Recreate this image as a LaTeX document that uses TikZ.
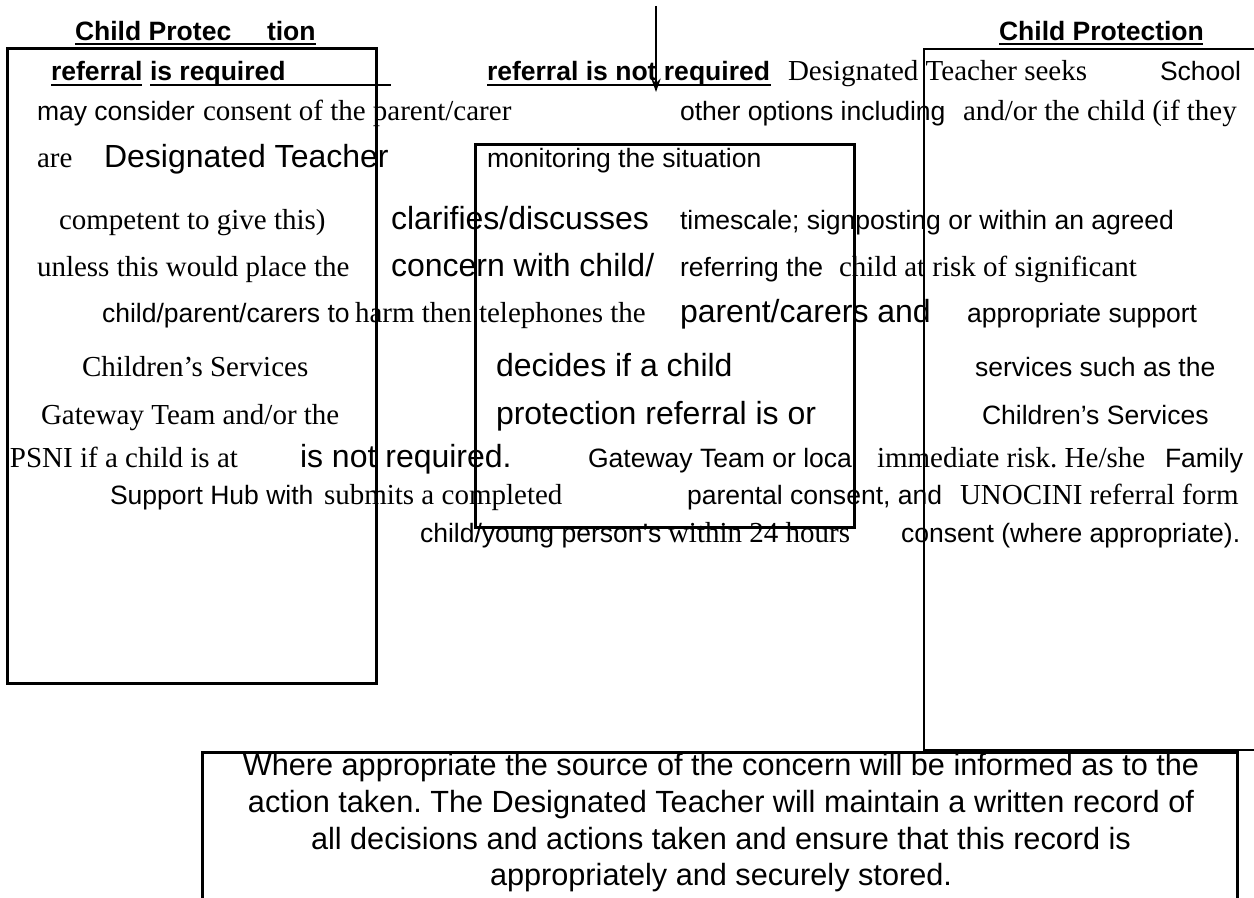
\documentclass[tikz,border=0pt]{standalone}
\usepackage{fontspec}
\setmainfont{Liberation Serif}
\newfontfamily\arialf{Liberation Sans}
\usetikzlibrary{arrows.meta}
\frenchspacing
\newcommand\fsm{\arialf\fontsize{19.9}{22}\selectfont}
\newcommand\fbig{\arialf\fontsize{24}{26}\selectfont}
\newcommand\fbold{\arialf\bfseries\fontsize{19.9}{22}\selectfont}
\newcommand\fser{\rmfamily\fontsize{21.75}{24}\selectfont}
\newcommand\fbot{\arialf\fontsize{23}{24}\selectfont}
\tikzset{
  every node/.style={inner sep=0pt, outer sep=0pt, anchor=base west},
  sm/.style={font=\fsm},
  big/.style={font=\fbig},
  bld/.style={font=\fbold},
  ser/.style={font=\fser},
  bot/.style={font=\fbot, anchor=base},
  thickbox/.style={draw, line width=2.25pt, anchor=north west},
  thinline/.style={line width=1.1pt},
  thickline/.style={line width=2.25pt},
  uline/.style={line width=1.9pt},
}
\begin{document}
\begin{tikzpicture}[x=0.75pt, y=-0.75pt]
\useasboundingbox (0,0) rectangle (1254,898);
\fill[white] (0,0) rectangle (1254,898);
% boxes
\node[thickbox, minimum width=369*0.75pt, minimum height=634*0.75pt] (leftbox) at (7,49) {};
\node[thickbox, minimum width=379*0.75pt, minimum height=383*0.75pt] (midbox) at (475,145) {};
\coordinate (rb1) at (1254,49);
\coordinate (rb2) at (924,49);
\coordinate (rb3) at (924,750);
\coordinate (rb4) at (1254,750);
\draw[thinline] (rb1) -- (rb2) -- (rb3) -- (rb4);
\coordinate (bb1) at (202,898);
\coordinate (bb2) at (202,752);
\coordinate (bb3) at (1237,752);
\coordinate (bb4) at (1237,898);
\draw[thickline, line cap=rect] (bb1) -- (bb2) -- (bb3) -- (bb4);
% arrow
\coordinate (arrtop) at (656,6);
\coordinate (arrtip) at (656,92);
\draw[line width=1.5pt, -{Stealth[length=10pt, width=7pt]}] (arrtop) -- (arrtip);
% row 0
\node[bld] (cp1) at (75,41) {Child Protec};
\node[bld] (cp2) at (267,41) {tion};
\node[bld] (cp3) at (999,41) {Child Protection};
\coordinate (u1a) at (75,44); \coordinate (u1b) at (316,44);
\coordinate (u2a) at (999,44); \coordinate (u2b) at (1203,44);
\draw[uline] (u1a) -- (u1b);
\draw[uline] (u2a) -- (u2b);
% row 1
\node[bld] (r1a) at (51,81) {referral};
\node[bld] (r1b) at (150,81) {is required};
\node[bld] (r1c) at (487,81) {referral is not required};
\node[ser] (r1d) at (788,81) {Designated Teacher seeks};
\node[sm] (r1e) at (1160,81) {School};
\coordinate (u3a) at (51,85); \coordinate (u3b) at (142,85);
\coordinate (u4a) at (150,85); \coordinate (u4b) at (391,85);
\coordinate (u5a) at (487,85); \coordinate (u5b) at (771,85);
\draw[uline] (u3a) -- (u3b);
\draw[uline] (u4a) -- (u4b);
\draw[uline] (u5a) -- (u5b);
% row 2
\node[sm] (r2a) at (37,121) {may consider};
\node[ser] (r2b) at (203,121) {consent of the parent/carer};
\node[sm] (r2c) at (680,121) {other options including};
\node[ser] (r2d) at (963,121) {and/or the child (if they};
% row 3
\node[ser] (r3a) at (37,168) {are};
\node[big] (r3b) at (104,168) {Designated Teacher};
\node[sm] (r3c) at (487,168) {monitoring the situation};
% row 4
\node[ser] (r4a) at (59,230) {competent to give this)};
\node[big] (r4b) at (391,230) {clarifies/discusses};
\node[sm] (r4c) at (680,230) {timescale; signposting or within an agreed};
% row 5
\node[ser] (r5a) at (37,277) {unless this would place the};
\node[big] (r5b) at (391,277) {concern with child/};
\node[sm] (r5c) at (680,277) {referring the};
\node[ser] (r5d) at (839,277) {child at risk of significant};
% row 6
\node[sm] (r6a) at (102,323) {child/parent/carers to};
\node[ser] (r6b) at (355,323) {harm then telephones the};
\node[big] (r6c) at (680,323) {parent/carers and};
\node[sm] (r6d) at (967,323) {appropriate support};
% row 7
\node[ser] (r7a) at (82,377) {Children’s Services};
\node[big] (r7b) at (496,377) {decides if a child};
\node[sm] (r7c) at (975,377) {services such as the};
% row 8
\node[ser] (r8a) at (41,425) {Gateway Team and/or the};
\node[big] (r8b) at (496,425) {protection referral is or};
\node[sm] (r8c) at (982,425) {Children’s Services};
% row 9
\node[ser] (r9a) at (10,468) {PSNI if a child is at};
\node[big] (r9b) at (300,468) {is not required.};
\node[sm] (r9c) at (588,468) {Gateway Team or local};
\node[ser] (r9d) at (877,468) {immediate risk. He/she};
\node[sm] (r9e) at (1165,468) {Family};
% row 10
\node[sm] (r10a) at (110,505) {Support Hub with};
\node[ser] (r10b) at (324,505) {submits a completed};
\node[sm] (r10c) at (687,505) {parental consent, and};
\node[ser] (r10d) at (960,505) {UNOCINI referral form};
% row 11
\node[sm] (r11a) at (420,543) {child/young person’s};
\node[ser] (r11b) at (668,543) {within 24 hours};
\node[sm] (r11c) at (901,543) {consent (where appropriate).};
% bottom box text
\node[bot] (b1) at (721,775) {Where appropriate the source of the concern will be informed as to the};
\node[bot] (b2) at (721,812) {action taken. The Designated Teacher will maintain a written record of};
\node[bot] (b3) at (721,849) {all decisions and actions taken and ensure that this record is};
\node[bot] (b4) at (721,885) {appropriately and securely stored.};
\end{tikzpicture}
\end{document}
